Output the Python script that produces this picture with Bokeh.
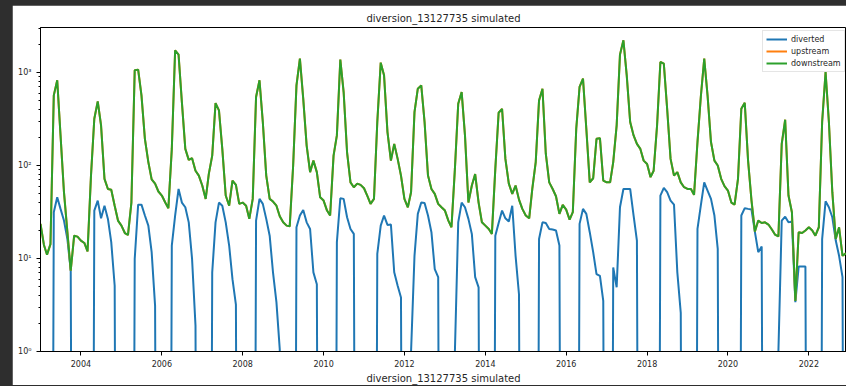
import pandas as pd
from bokeh.plotting import figure
from bokeh.models import (FixedTicker, DatetimeTickFormatter, Legend, LegendItem,
                          Title, Range1d)
from bokeh.embed import file_html
from bokeh.resources import INLINE

# ---------------- data (monthly) ----------------
dates = pd.date_range("2003-01-01", periods=240, freq="MS")

downstream = [
    23.6, 14.0, 11.0, 14.3, 569, 826, 211, 51.7, 19.2, 7.4, 17.6, 17.2,      # 2003
    15.6, 14.7, 11.9, 78, 319, 490, 270, 72, 56, 55, 37, 25.6,               # 2004
    22.6, 18.8, 17.9, 40, 1058, 1076, 569, 194, 109, 71, 64, 52.6,           # 2005
    47.6, 40, 34.8, 151, 1738, 1560, 482, 151, 115, 120, 88, 78,             # 2006
    61, 43.8, 81, 128, 470, 392, 151, 47.6, 37, 69, 62, 38.7,                # 2007
    40, 37, 26.7, 43.8, 546, 826, 294, 78, 43.8, 41, 37, 28.5,               # 2008
    24.5, 22.6, 22.2, 100, 729, 1413, 524, 164, 85, 113, 85, 45.6,           # 2009
    42, 32.8, 29, 128, 211, 1378, 618, 139, 66, 58.5, 64, 62,                # 2010
    57, 46.8, 38.7, 43.8, 294, 1279, 935, 229, 113, 171, 118, 78,            # 2011
    43.8, 35.6, 51.7, 376, 671, 729, 294, 78, 56, 49.6, 38.7, 35.6,          # 2012
    32.8, 25.6, 21.7, 92, 463, 618, 211, 40, 61, 81, 40, 24.5,               # 2013
    22.6, 20.8, 18.4, 92, 370, 408, 118, 64, 49.6, 61, 43, 34.2,             # 2014
    29, 27.1, 56, 109, 502, 671, 134, 66, 56, 46.8, 30.2, 37.8,              # 2015
    33.6, 26.2, 31.5, 249, 700, 860, 249, 66, 73, 194, 197, 69,              # 2016
    66, 66, 109, 270, 1560, 2228, 935, 294, 211, 171, 151, 113,              # 2017
    104, 75, 88, 270, 1300, 1248, 408, 118, 78, 85, 66, 58.5,                # 2018
    56, 56, 48.4, 179, 546, 1413, 569, 179, 113, 100, 72, 60,                # 2019
    53.9, 40, 38, 72, 408, 474, 113, 42, 19.5, 25.6, 24.1, 24.5,             # 2020
    23.2, 20.5, 18.1, 17.3, 171, 311, 47.6, 31.5, 3.5, 19.2, 18.8, 20,       # 2021
    21.7, 20, 17.6, 21.7, 294, 1014, 294, 51.7, 16.2, 21.7, 10.7, 11.4,      # 2022
]

# upstream lies exactly under downstream in the picture
upstream = [
    23.6, 14.0, 11.0, 14.3, 569, 826, 211, 51.7, 19.2, 7.4, 17.6, 17.2,
    15.6, 14.7, 11.9, 78, 319, 490, 270, 72, 56, 55, 37, 25.6,
    22.6, 18.8, 17.9, 40, 1058, 1076, 569, 194, 109, 71, 64, 52.6,
    47.6, 40, 34.8, 151, 1738, 1560, 482, 151, 115, 120, 88, 78,
    61, 43.8, 81, 128, 470, 392, 151, 47.6, 37, 69, 62, 38.7,
    40, 37, 26.7, 43.8, 546, 826, 294, 78, 43.8, 41, 37, 28.5,
    24.5, 22.6, 22.2, 100, 729, 1413, 524, 164, 85, 113, 85, 45.6,
    42, 32.8, 29, 128, 211, 1378, 618, 139, 66, 58.5, 64, 62,
    57, 46.8, 38.7, 43.8, 294, 1279, 935, 229, 113, 171, 118, 78,
    43.8, 35.6, 51.7, 376, 671, 729, 294, 78, 56, 49.6, 38.7, 35.6,
    32.8, 25.6, 21.7, 92, 463, 618, 211, 40, 61, 81, 40, 24.5,
    22.6, 20.8, 18.4, 92, 370, 408, 118, 64, 49.6, 61, 43, 34.2,
    29, 27.1, 56, 109, 502, 671, 134, 66, 56, 46.8, 30.2, 37.8,
    33.6, 26.2, 31.5, 249, 700, 860, 249, 66, 73, 194, 197, 69,
    66, 66, 109, 270, 1560, 2228, 935, 294, 211, 171, 151, 113,
    104, 75, 88, 270, 1300, 1248, 408, 118, 78, 85, 66, 58.5,
    56, 56, 48.4, 179, 546, 1413, 569, 179, 113, 100, 72, 60,
    53.9, 40, 38, 72, 408, 474, 113, 42, 19.5, 25.6, 24.1, 24.5,
    23.2, 20.5, 18.1, 17.3, 171, 311, 47.6, 31.5, 3.5, 19.2, 18.8, 20,
    21.7, 20, 17.6, 21.7, 294, 1014, 294, 51.7, 16.2, 21.7, 10.7, 11.4,
]

diverted = [
    0, 0, 0, 0, 31.5, 45.6, 34.2, 25.6, 16.2, 7.4, 0, 0,                     # 2003
    0, 0, 0, 0, 32.8, 42, 27.1, 37, 26.7, 15, 5.1, 0,                        # 2004
    0, 0, 0, 0, 9.9, 38, 38, 29, 22.6, 11.7, 3.1, 0,                         # 2005
    0, 0, 0, 13.8, 29, 56, 40, 35.6, 24.5, 9.9, 1.9, 0,                      # 2006
    0, 0, 0, 7.1, 24.5, 40, 37, 24.5, 13.8, 6.0, 3.2, 0,                     # 2007
    0, 0, 0, 0, 25.6, 43.8, 38.7, 26.7, 17.6, 7.1, 3.4, 1.06,                # 2008
    0, 0, 0, 0, 21.7, 29, 33.3, 24.5, 20.8, 7.1, 5.3, 0,                     # 2009
    0, 0, 0, 0, 15, 44.5, 43.8, 27.8, 20.8, 18.4, 0, 0,                      # 2010
    0, 0, 0, 0, 11.2, 22.6, 29, 23, 23.2, 7.1, 5.1, 3.8,                     # 2011
    0, 0, 1.0, 10.7, 30.2, 40, 39.5, 29, 19.2, 7.7, 6.3, 0,                  # 2012
    0, 0, 0, 1.0, 24.5, 40, 35.6, 26.7, 18.4, 6.3, 4.9, 0,                   # 2013
    0, 0, 0, 17.6, 24.1, 32.8, 27.1, 25, 37, 10.7, 4.1, 0,                   # 2014
    0, 0, 0, 0, 16.2, 24.5, 24.1, 20.8, 20.5, 20, 13.8, 0,                   # 2015
    0, 0, 0, 0, 23.6, 34.2, 30.2, 19.2, 11.7, 6.8, 6.5, 3.5,                 # 2016
    0, 0, 8.0, 4.9, 35.6, 56, 56, 56, 29, 15.6, 0, 0,                        # 2017
    0, 0, 0, 0, 47.6, 57.6, 51.7, 42, 38, 7.1, 2.6, 0,                       # 2018
    0, 0, 0, 20.8, 37, 66, 53.9, 43.8, 29, 12.7, 0, 0,                       # 2019
    0, 0, 0, 0, 29, 34.8, 34.2, 33.6, 19.2, 11.7, 13.5, 0,                   # 2020
    0, 0, 0, 1.0, 25.6, 28.2, 24.5, 25, 3.4, 8.2, 8.2, 8.2,                  # 2021
    0, 0, 0, 0, 16.2, 41.3, 35.6, 27.8, 15.6, 10.7, 6.3, 0,                  # 2022
]

series_names = ["diverted", "upstream", "downstream"]
series_colors = ["#1f77b4", "#ff7f0e", "#2ca02c"]
tick_years = [2004, 2006, 2008, 2010, 2012, 2014, 2016, 2018, 2020, 2022]
title_text = "diversion_13127735 simulated"

# ---------------- figure ----------------
FONT = "DejaVu Sans"
TXT = "#262626"

# zero values on a log axis: clip far below the view, as matplotlib does
diverted_plot = [v if v > 0 else 1e-9 for v in diverted]

p = figure(width=834, height=380, x_axis_type="datetime", y_axis_type="log",
           x_range=Range1d(dates[0], dates[-1] + pd.Timedelta(days=6)),
           y_range=Range1d(1, 3055),
           output_backend="svg", toolbar_location=None,
           min_border_left=28, min_border_right=0, min_border_top=22,
           min_border_bottom=34)

r1 = p.line(dates, diverted_plot, line_color=series_colors[0], line_width=2)
r2 = p.line(dates, upstream, line_color=series_colors[1], line_width=2)
r3 = p.line(dates, downstream, line_color=series_colors[2], line_width=2)

p.title.text = title_text
p.title.align = "center"
p.title.text_font = FONT
p.title.text_font_size = "10px"
p.title.text_font_style = "normal"
p.title.text_color = TXT
p.title.standoff = 7

p.xgrid.grid_line_color = None
p.ygrid.grid_line_color = None
p.outline_line_color = "black"
p.outline_line_width = 1
p.background_fill_color = "white"
p.border_fill_color = "white"

year_ms = [pd.Timestamp(f"{y}-01-01").value / 1e6 for y in tick_years]
p.xaxis.ticker = FixedTicker(ticks=year_ms)
p.xaxis.formatter = DatetimeTickFormatter(years="%Y", months="%Y", days="%Y",
                                          hours="%Y", minutes="%Y", seconds="%Y")
p.xaxis.minor_tick_line_color = None

ymaj = [1, 10, 100, 1000]
ymin = [m * d for d in [1, 10, 100] for m in range(2, 10)] + [2000, 3000]
p.yaxis.ticker = FixedTicker(ticks=ymaj, minor_ticks=ymin)
p.yaxis.major_label_overrides = {1: "10⁰", 10: "10¹", 100: "10²", 1000: "10³"}

for ax in (p.xaxis[0], p.yaxis[0]):
    ax.axis_line_color = "black"
    ax.major_tick_line_color = "black"
    ax.minor_tick_line_color = "black" if ax is p.yaxis[0] else None
    ax.major_tick_out = 4
    ax.major_tick_in = 0
    ax.minor_tick_out = 2
    ax.minor_tick_in = 0
    ax.major_label_text_font = FONT
    ax.major_label_text_font_size = "8px"
    ax.major_label_text_color = TXT
p.xaxis.major_label_standoff = 4
p.yaxis.major_label_standoff = 5

legend = Legend(items=[LegendItem(label=series_names[0], renderers=[r1]),
                       LegendItem(label=series_names[1], renderers=[r2]),
                       LegendItem(label=series_names[2], renderers=[r3])],
                location=(722, 279))
legend.label_text_font = FONT
legend.label_text_font_size = "8px"
legend.label_text_color = TXT
legend.glyph_width = 21
legend.glyph_height = 10
legend.label_height = 10
legend.spacing = 2
legend.padding = 3
legend.label_standoff = 4
legend.margin = 0
legend.border_line_color = "#cccccc"
legend.border_line_width = 1
legend.background_fill_alpha = 0.8
p.add_layout(legend)

# the next figure's title, at the bottom of the window
next_title = Title(text=title_text, align="center", text_font=FONT,
                   text_font_size="10px", text_font_style="normal",
                   text_color=TXT, standoff=2)
p.add_layout(next_title, "below")

html = file_html(p, INLINE, title="diversion_13127735 simulated")
html = html.replace("</head>",
                    "<style>html,body{background:#2e2e2e;overflow:hidden}"
                    "body{margin:5px 0 0 12px;padding:0}</style></head>", 1)
open("out.html", "w").write(html)
